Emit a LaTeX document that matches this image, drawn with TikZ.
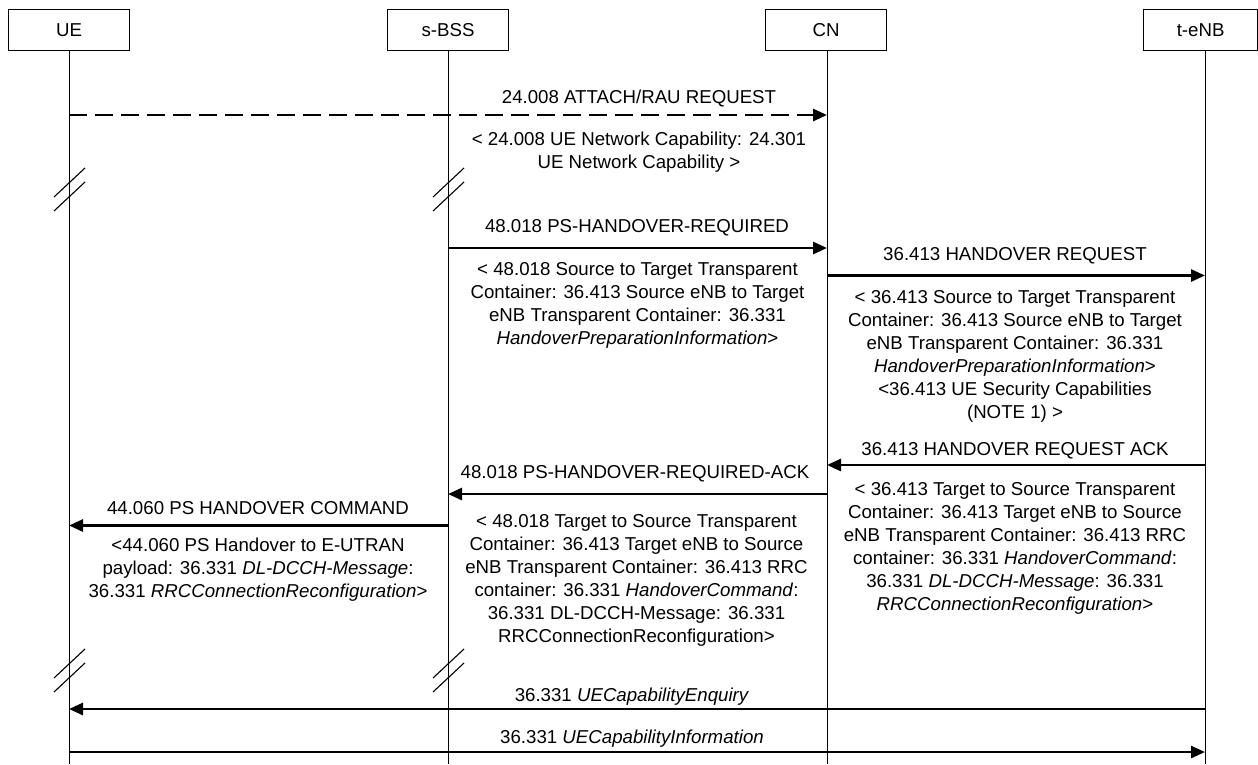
\documentclass[tikz,border=0pt]{standalone}
\usepackage{fontspec}
\setmainfont{Liberation Sans}
\usetikzlibrary{arrows.meta}
\tikzset{
  entity/.style={draw,line width=1.2pt,minimum width=121pt,minimum height=41pt,inner sep=0pt,anchor=north west},
  lifeline/.style={line width=1pt},
  msg/.style={line width=2.8pt,-{Triangle[length=14pt,width=12pt]}},
  dmsg/.style={msg,dash pattern=on 18pt off 8pt},
  lbl/.style={anchor=base,align=center,inner sep=0pt},
  brk/.style={line width=1.1pt}
}
\begin{document}
\begin{tikzpicture}[x=1pt,y=-1pt,font=\fontsize{18.67}{23}\selectfont]
\fill[white] (0,0) rectangle (1258,764);
\useasboundingbox (0,0) rectangle (1258,764);
% entity boxes
\node[entity] (ue) at (8,9) {UE};
\node[entity] (bss) at (387,9) {s-BSS};
\node[entity] (cn) at (765,9) {CN};
\node[entity,minimum width=114pt] (enb) at (1143,9) {t-eNB};
% lifeline ends
\coordinate (ueB) at (69,764);
\coordinate (bssB) at (448,764);
\coordinate (cnB) at (827,764);
\coordinate (enbB) at (1205,764);
\draw[lifeline] (ue.south -| ueB) -- (ueB);
\draw[lifeline] (bss.south -| bssB) -- (bssB);
\draw[lifeline] (cn.south -| cnB) -- (cnB);
\draw[lifeline] (enb.south -| enbB) -- (enbB);
% break marks
\foreach \bx in {69,448}{
  \foreach \by in {168,182,649,663}{
    \draw[brk] (\bx-15,\by+29) -- (\bx+16,\by);
  }
}
% message endpoints
\coordinate (m1a) at (69,115);   \coordinate (m1b) at (827,115);
\coordinate (m2a) at (448,248);  \coordinate (m2b) at (827,248);
\coordinate (m3a) at (827,275.5);\coordinate (m3b) at (1205,275.5);
\coordinate (m4a) at (1205,465); \coordinate (m4b) at (827,465);
\coordinate (m5a) at (827,494);  \coordinate (m5b) at (448,494);
\coordinate (m6a) at (448,525.5);\coordinate (m6b) at (69,525.5);
\coordinate (m7a) at (1205,709); \coordinate (m7b) at (69,709);
\coordinate (m8a) at (69,752);   \coordinate (m8b) at (1205,752);
\draw[dmsg] (m1a) -- (m1b);
\draw[msg] (m2a) -- (m2b);
\draw[msg] (m3a) -- (m3b);
\draw[msg] (m4a) -- (m4b);
\draw[msg] (m5a) -- (m5b);
\draw[msg] (m6a) -- (m6b);
\draw[msg] (m7a) -- (m7b);
\draw[msg] (m8a) -- (m8b);
% labels (multi-line nodes anchored at the baseline of their last line)
\node[lbl] (l1) at (639,103) {24.008 ATTACH/RAU REQUEST};
\node[lbl] (t1) at (639,168) {< 24.008 UE Network Capability: 24.301\\UE Network Capability >};
\node[lbl] (l2) at (637,232) {48.018 PS-HANDOVER-REQUIRED};
\node[lbl] (t2) at (637.5,344) {< 48.018 Source to Target Transparent\\Container: 36.413 Source eNB to Target\\eNB Transparent Container: 36.331\\\textit{HandoverPreparationInformation}>};
\node[lbl] (l3) at (1015,260.5) {36.413 HANDOVER REQUEST};
\node[lbl] (t3) at (1015,418) {< 36.413 Source to Target Transparent\\Container: 36.413 Source eNB to Target\\eNB Transparent Container: 36.331\\\textit{HandoverPreparationInformation}>\\<36.413 UE Security Capabilities\\(NOTE 1) >};
\node[lbl] (l4) at (1015,455) {36.413 HANDOVER REQUEST ACK};
\node[lbl] (t4) at (1015,610) {< 36.413 Target to Source Transparent\\Container: 36.413 Target eNB to Source\\eNB Transparent Container: 36.413 RRC\\container: 36.331 \textit{HandoverCommand}:\\36.331 \textit{DL-DCCH-Message}: 36.331\\\textit{RRCConnectionReconfiguration}>};
\node[lbl] (l5) at (635,478) {48.018 PS-HANDOVER-REQUIRED-ACK};
\node[lbl] (t5) at (636.5,642.5) {< 48.018 Target to Source Transparent\\Container: 36.413 Target eNB to Source\\eNB Transparent Container: 36.413 RRC\\container: 36.331 \textit{HandoverCommand}:\\36.331 DL-DCCH-Message: 36.331\\RRCConnectionReconfiguration>};
\node[lbl] (l6) at (258,514) {44.060 PS HANDOVER COMMAND};
\node[lbl] (t6) at (258,597.5) {<44.060 PS Handover to E-UTRAN\\payload: 36.331 \textit{DL-DCCH-Message}:\\36.331 \textit{RRCConnectionReconfiguration}>};
\node[lbl] (l7) at (632,701) {36.331 \textit{UECapabilityEnquiry}};
\node[lbl] (l8) at (632,743) {36.331 \textit{UECapabilityInformation}};
\end{tikzpicture}
\end{document}
